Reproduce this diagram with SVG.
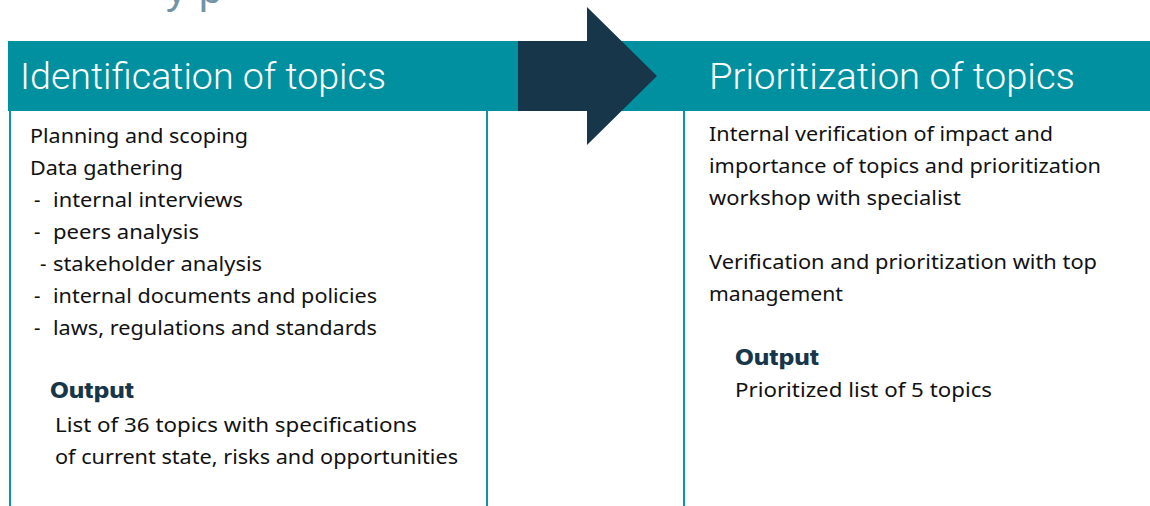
<svg xmlns="http://www.w3.org/2000/svg" width="1150" height="506" viewBox="0 0 1150 506">
<style>
.band{fill:#00909F}
.vline{stroke:#0A97A5;stroke-width:2;fill:none}
.title{font-family:Roboto,"Liberation Sans",sans-serif;font-weight:300;font-size:36px;fill:#FFFFFF}
.body{font-family:"Noto Sans","Liberation Sans",sans-serif;font-size:20px;fill:#111111}
.out{font-family:Inter,"Noto Sans",sans-serif;font-weight:800;font-size:21px;fill:#17364A}
.frag{font-family:"Liberation Sans",sans-serif;font-size:42px;fill:#7393A7}
</style>
<rect width="1150" height="506" fill="#FFFFFF"/>
<text class="frag" x="166" y="3">y p</text>
<rect class="band" x="8" y="41" width="1142" height="70"/>
<g id="identification">
<line class="vline" x1="10" y1="111" x2="10" y2="506"/>
<line class="vline" x1="487" y1="111" x2="487" y2="506"/>
<text class="title" x="20" y="89" textLength="366" lengthAdjust="spacingAndGlyphs">Identification of topics</text>
<text class="body" x="30" y="143" textLength="218" lengthAdjust="spacingAndGlyphs">Planning and scoping</text>
<text class="body" x="30" y="175" textLength="153" lengthAdjust="spacingAndGlyphs">Data gathering</text>
<text class="body" x="34" y="207">-</text>
<text class="body" x="53" y="207" textLength="190" lengthAdjust="spacingAndGlyphs">internal interviews</text>
<text class="body" x="34" y="239">-</text>
<text class="body" x="53" y="239" textLength="146" lengthAdjust="spacingAndGlyphs">peers analysis</text>
<text class="body" x="40" y="271">-</text>
<text class="body" x="53" y="271" textLength="209" lengthAdjust="spacingAndGlyphs">stakeholder analysis</text>
<text class="body" x="34" y="303">-</text>
<text class="body" x="53" y="303" textLength="324" lengthAdjust="spacingAndGlyphs">internal documents and policies</text>
<text class="body" x="34" y="335">-</text>
<text class="body" x="53" y="335" textLength="324" lengthAdjust="spacingAndGlyphs">laws, regulations and standards</text>
<text class="out" x="50" y="398" textLength="84" lengthAdjust="spacingAndGlyphs">Output</text>
<text class="body" x="55" y="432" textLength="362" lengthAdjust="spacingAndGlyphs">List of 36 topics with specifications</text>
<text class="body" x="55" y="464" textLength="403" lengthAdjust="spacingAndGlyphs">of current state, risks and opportunities</text>
</g>
<g id="prioritization">
<line class="vline" x1="684" y1="111" x2="684" y2="506"/>
<text class="title" x="709" y="89" textLength="366" lengthAdjust="spacingAndGlyphs">Prioritization of topics</text>
<text class="body" x="709" y="141" textLength="344" lengthAdjust="spacingAndGlyphs">Internal verification of impact and</text>
<text class="body" x="709" y="173" textLength="392" lengthAdjust="spacingAndGlyphs">importance of topics and prioritization</text>
<text class="body" x="709" y="205" textLength="252" lengthAdjust="spacingAndGlyphs">workshop with specialist</text>
<text class="body" x="709" y="269" textLength="388" lengthAdjust="spacingAndGlyphs">Verification and prioritization with top</text>
<text class="body" x="709" y="301" textLength="134" lengthAdjust="spacingAndGlyphs">management</text>
<text class="out" x="735" y="365" textLength="84" lengthAdjust="spacingAndGlyphs">Output</text>
<text class="body" x="735" y="397" textLength="257" lengthAdjust="spacingAndGlyphs">Prioritized list of 5 topics</text>
</g>
<g id="connectors">
<polygon points="518,41 587,41 587,7 657,76 587,145 587,111 518,111" fill="#17364A"/>
</g>
</svg>
